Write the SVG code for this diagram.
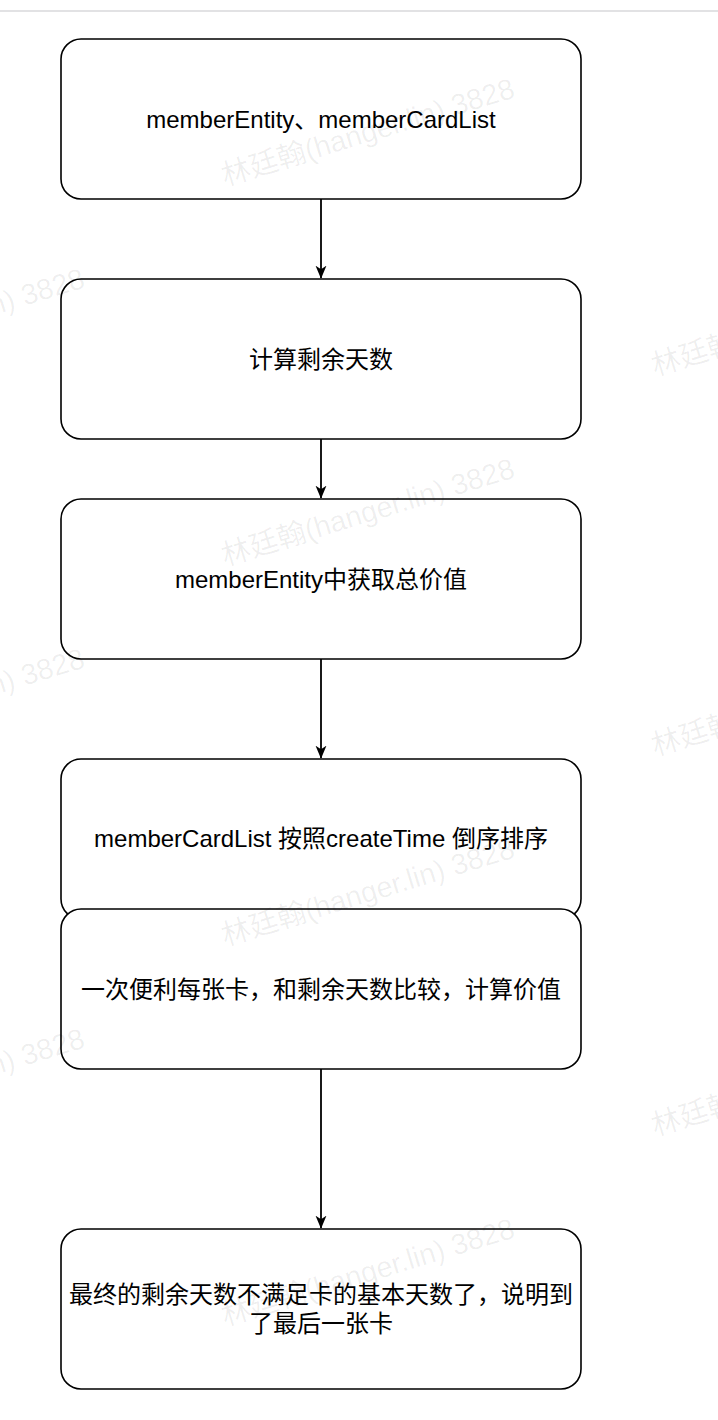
<svg xmlns="http://www.w3.org/2000/svg" xmlns:xlink="http://www.w3.org/1999/xlink" width="718" height="1420" viewBox="0 0 718 1420">
<style>
.box{fill:#ffffff;stroke:#000000;stroke-width:1.6}
.lbl{font-family:"Liberation Sans","Noto Sans CJK SC",sans-serif;font-size:24px;fill:#000000;text-anchor:middle;dominant-baseline:central}
.edge{fill:none;stroke:#000000;stroke-width:1.8}
.wm{font-family:"Liberation Sans","Noto Sans CJK SC",sans-serif;font-size:29px;fill:#000000;fill-opacity:0.065}
</style>
<defs>
<marker id="arr" viewBox="0 0 10 10" refX="9.5" refY="5" markerWidth="13" markerHeight="13" markerUnits="userSpaceOnUse" orient="auto">
<path d="M0,0.8 L10,5 L0,9.2 L2.8,5 Z" fill="#000000"/>
</marker>
<text id="wmt" class="wm" x="0" y="0" transform="rotate(-17)">林廷翰(hanger.lin) 3828</text>
</defs>
<rect x="0" y="0" width="718" height="1420" fill="#ffffff"/>
<rect x="0" y="10" width="718" height="2" fill="#e2e2e4"/>
<g id="nodes">
<g id="n1"><rect class="box" x="61" y="39" width="520" height="160" rx="20" ry="20"/><text class="lbl" x="321" y="119">memberEntity、memberCardList</text></g>
<g id="n2"><rect class="box" x="61" y="279" width="520" height="160" rx="20" ry="20"/><text class="lbl" x="321" y="359">计算剩余天数</text></g>
<g id="n3"><rect class="box" x="61" y="499" width="520" height="160" rx="20" ry="20"/><text class="lbl" x="321" y="579">memberEntity中获取总价值</text></g>
<g id="n4"><rect class="box" x="61" y="759" width="520" height="160" rx="20" ry="20"/><text class="lbl" x="321" y="838">memberCardList 按照createTime 倒序排序</text></g>
<g id="n5"><rect class="box" x="61" y="909" width="520" height="160" rx="20" ry="20"/><text class="lbl" x="321" y="989">一次便利每张卡，和剩余天数比较，计算价值</text></g>
<g id="n6"><rect class="box" x="61" y="1229" width="520" height="160" rx="20" ry="20"/><text class="lbl" x="321" y="1294">最终的剩余天数不满足卡的基本天数了，说明到</text><text class="lbl" x="321" y="1323">了最后一张卡</text></g>
</g>
<g id="connectors">
<line class="edge" x1="321" y1="199" x2="321" y2="278" marker-end="url(#arr)"/>
<line class="edge" x1="321" y1="439" x2="321" y2="498" marker-end="url(#arr)"/>
<line class="edge" x1="321" y1="659" x2="321" y2="758" marker-end="url(#arr)"/>
<line class="edge" x1="321" y1="1069" x2="321" y2="1228" marker-end="url(#arr)"/>
</g>
<g id="watermarks">
<use xlink:href="#wmt" transform="translate(225,186)"/>
<use xlink:href="#wmt" transform="translate(225,566)"/>
<use xlink:href="#wmt" transform="translate(225,946)"/>
<use xlink:href="#wmt" transform="translate(225,1326)"/>
<use xlink:href="#wmt" transform="translate(-205,376)"/>
<use xlink:href="#wmt" transform="translate(-205,756)"/>
<use xlink:href="#wmt" transform="translate(-205,1136)"/>
<use xlink:href="#wmt" transform="translate(655,376)"/>
<use xlink:href="#wmt" transform="translate(655,756)"/>
<use xlink:href="#wmt" transform="translate(655,1136)"/>
</g>
</svg>
